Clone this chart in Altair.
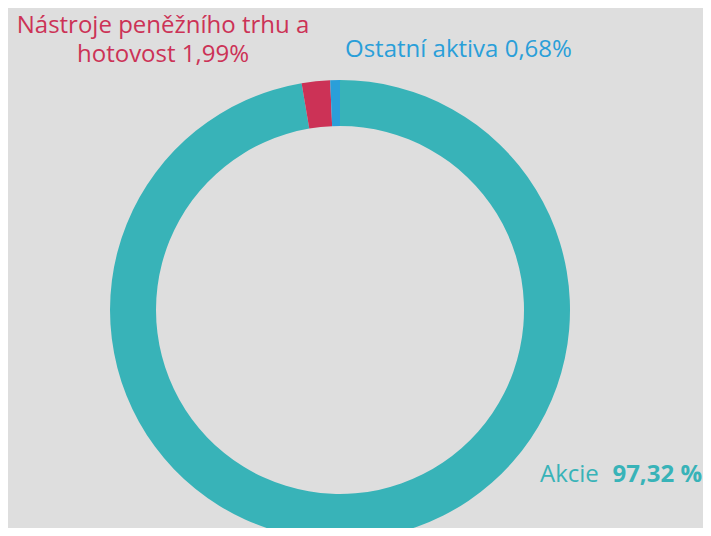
import altair as alt
import pandas as pd

categories = ["Akcie", "Nástroje peněžního trhu a hotovost", "Ostatní aktiva"]
values = [97.32, 1.99, 0.68]
colors = ["#38b3b8", "#cc3256", "#2a9fd9"]
order = [1, 2, 3]

label_akcie = "Akcie"
label_akcie_value = "97,32 %"
label_nastroje_1 = "Nástroje peněžního trhu a"
label_nastroje_2 = "hotovost 1,99%"
label_ostatni = "Ostatní aktiva 0,68%"

df = pd.DataFrame({"kategorie": categories, "hodnota": values, "poradi": order})

FONT = "Open Sans"

donut = alt.Chart(df).mark_arc(
    innerRadius=184, outerRadius=230, x=332, y=302, stroke=None
).encode(
    theta=alt.Theta("hodnota:Q", stack=True),
    order=alt.Order("poradi:Q"),
    color=alt.Color("kategorie:N",
                    scale=alt.Scale(domain=categories, range=colors),
                    legend=None),
)

def text_layer(txt, x, y, color, align="left", weight="normal", size=24):
    kw = dict(text=txt, color=color, align=align, fontWeight=weight,
              font=FONT, fontSize=size, baseline="alphabetic")
    return alt.Chart(pd.DataFrame({"a": [0]})).mark_text(**kw).encode(
        x=alt.value(x), y=alt.value(y))

t1 = text_layer(label_akcie, 532, 474, colors[0], align="left")
t2 = text_layer(label_akcie_value, 694, 474, colors[0], align="right", weight="bold")
t3a = text_layer(label_nastroje_1, 155, 25, colors[1], align="center")
t3b = text_layer(label_nastroje_2, 155, 54, colors[1], align="center")
t4 = text_layer(label_ostatni, 337, 49, colors[2], align="left")

chart = alt.layer(donut, t1, t2, t3a, t3b, t4).properties(
    width=695, height=520, padding=0, autosize=alt.AutoSizeParams(type="none"),
    background="#dedede"
).configure_view(stroke=None)

chart.save("out.html", embed_options={"renderer": "svg", "actions": False})
